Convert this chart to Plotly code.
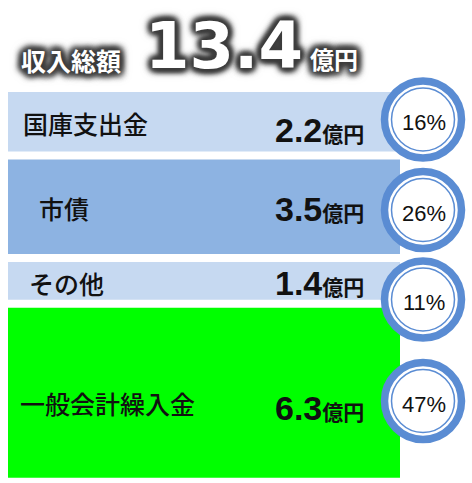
import plotly.graph_objects as go

# Revenue breakdown (億円) and share of total (%)
categories = ["国庫支出金", "市債", "その他", "一般会計繰入金"]
amounts = [2.2, 3.5, 1.4, 6.3]
shares = [16, 26, 11, 47]
total = 13.4
unit = "億円"
title_label = "収入総額"

# ---- layout / style settings ----
W, H = 472, 483
PX = 27.0              # pixels per 1 億円 on the vertical scale
TOP = 92               # top edge of the first block (px)
GAP = 8                # spacing between blocks (px)
BAR_X, BAR_W = 204, 392
fills = ["#C6D9F1", "#8DB3E2", "#C6D9F1", "#00FF00"]
ring_color = "#5A8CD3"
ring_x = 423
ring_y_px = [119.5, 210, 299.5, 401]
label_x_px = [21, 37, 27, 18]
label_y_px = [123, 208, 283, 403]
value_right_px = 366
value_y_px = [130, 208.5, 282.5, 407.5]
cjk = "Noto Sans CJK JP"
latin = "Liberation Sans, Noto Sans CJK JP"
# dark soft halo behind the white headline text (offset layers widen it)
glow = ", ".join(
    [f"{dx}px {dy}px 6px #3c3c3c" for dx, dy in
     [(3, 0), (-3, 0), (0, 3), (0, -3), (2, 2), (-2, -2), (2, -2), (-2, 2)]]
    + ["0px 0px 12px #777777"]
)


def y_of(px):
    return px / PX


# stacked blocks, top to bottom, each starting after the previous one
bases = []
b = TOP / PX
for v in amounts:
    bases.append(b)
    b += v + GAP / PX

fig = go.Figure()
fig.add_trace(go.Bar(
    x=[BAR_X] * len(amounts), y=amounts, base=bases, width=BAR_W,
    marker=dict(color=fills, line=dict(width=0)),
    hoverinfo="skip",
))

# share badges: thick outer ring + thin inner ring
fig.add_trace(go.Scatter(
    x=[ring_x] * len(shares), y=[y_of(p) for p in ring_y_px], mode="markers",
    marker=dict(size=77, color="white", line=dict(color=ring_color, width=7.5)),
    hoverinfo="skip",
))
fig.add_trace(go.Scatter(
    x=[ring_x] * len(shares), y=[y_of(p) for p in ring_y_px], mode="markers",
    marker=dict(size=63, color="rgba(0,0,0,0)", line=dict(color=ring_color, width=1.5)),
    hoverinfo="skip",
))

annotations = []
for i, name in enumerate(categories):
    annotations.append(dict(
        x=label_x_px[i], y=y_of(label_y_px[i]), xref="x", yref="y",
        text=name, showarrow=False, xanchor="left", yanchor="middle",
        font=dict(family=cjk, size=25, color="#111111", weight=500),
    ))
    annotations.append(dict(
        x=value_right_px, y=y_of(value_y_px[i]), xref="x", yref="y",
        text=f"<b>{amounts[i]:.1f}<span style='font-size:21px'>{unit}</span></b>",
        showarrow=False, xanchor="right", yanchor="middle",
        font=dict(family=latin, size=34, color="#111111"),
    ))
    annotations.append(dict(
        x=ring_x + 1, y=y_of(ring_y_px[i] + 3), xref="x", yref="y",
        text=f"{shares[i]}%", showarrow=False, xanchor="center", yanchor="middle",
        font=dict(family="Liberation Sans", size=22, color="#111111"),
    ))

# headline: total revenue
headline = [
    (f"<b>{title_label}</b>", 19, 60, cjk, 25),
    (f"<b>{total:.1f}</b>", 143, 46, "DejaVu Sans", 64),
    (f"<b>{unit}</b>", 308, 58, cjk, 24),
]
for text, hx, hy, fam, size in headline:
    annotations.append(dict(
        x=hx / W, y=1 - hy / H, xref="paper", yref="paper",
        text=text, showarrow=False, xanchor="left", yanchor="middle",
        font=dict(family=fam, size=size, color="white", shadow=glow),
    ))

fig.update_layout(
    width=W, height=H,
    margin=dict(l=0, r=0, t=0, b=0),
    paper_bgcolor="white", plot_bgcolor="white",
    showlegend=False,
    xaxis=dict(range=[0, W], visible=False, fixedrange=True),
    yaxis=dict(range=[H / PX, 0], visible=False, fixedrange=True),
    annotations=annotations,
)

fig.write_html("out.html", config={"displayModeBar": False})
